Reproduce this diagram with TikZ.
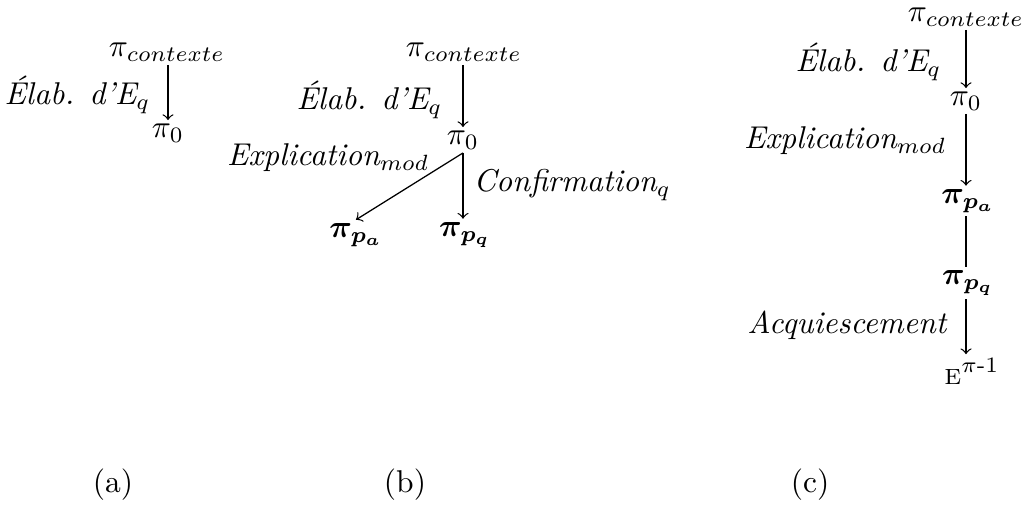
\documentclass[tikz,border=0pt]{standalone}
\usepackage{fontspec}
\usepackage{amsmath}
\usepackage{bm}
\usepackage{tikz}
\usetikzlibrary{positioning}
\tikzset{
  pinode/.style={inner sep=1pt, font=\normalsize},
  lbl/.style={inner sep=0pt, font=\normalsize\itshape},
  arr/.style={-to, thin},
  rel/.style={thin},
  caption/.style={inner sep=0pt, font=\normalsize}
}

\begin{document}
\begin{tikzpicture}[x=0.01115cm, y=-0.01115cm]
  \useasboundingbox (0,0) rectangle (1028,507);
  % (a)
  \node[pinode] (ctxA) at (167,52) {$\pi_{contexte}$};
  \node[pinode] (p0A) at (168,133) {$\pi_0$};
  \node[lbl, anchor=east] (elabA) at (151,95) {Élab. d'E$_q$};
  \draw[arr] (ctxA.south -| p0A) -- (p0A.north);
  % (b)
  \node[pinode] (ctxB) at (464,52) {$\pi_{contexte}$};
  \node[pinode] (p0B) at (463,140) {$\pi_0$};
  \node[pinode] (paB) at (356,235) {$\bm{\pi_{p_a}}$};
  \node[pinode] (pqB) at (465,235) {$\bm{\pi_{p_q}}$};
  \node[lbl, anchor=east] (elabB) at (443,100) {Élab. d'E$_q$};
  \node[lbl, anchor=east] (explB) at (430,158) {Explication$_{mod}$};
  \node[lbl, anchor=west] (confB) at (473,185) {Confirmation$_q$};
  \draw[arr] (ctxB.south -| p0B) -- (p0B.north);
  \draw[arr] (p0B.south) -- (paB.north);
  \draw[arr] (p0B.south) -- (p0B.south |- pqB.north);
  % (c)
  \node[pinode] (ctxC) at (966,17) {$\pi_{contexte}$};
  \node[pinode] (p0C) at (966,101) {$\pi_0$};
  \node[pinode] (paC) at (968,201) {$\bm{\pi_{p_a}}$};
  \node[pinode] (pqC) at (968,283) {$\bm{\pi_{p_q}}$};
  \node[pinode] (eC) at (972,371) {{\scriptsize E}$^{\pi\text{-1}}$};
  \node[lbl, anchor=east] (elabC) at (942,62) {Élab. d'E$_q$};
  \node[lbl, anchor=east] (explC) at (947,141) {Explication$_{mod}$};
  \node[lbl, anchor=east] (acqC) at (947,325) {Acquiescement};
  \draw[arr] (ctxC.south -| p0C) -- (p0C.north);
  \draw[arr] (p0C.south) -- (p0C.south |- paC.north);
  \draw[rel] (p0C.south |- paC.south) -- (p0C.south |- pqC.north);
  \draw[arr] (p0C.south |- pqC.south) -- (p0C.south |- eC.north);
  % captions
  \node[caption] (capA) at (113,485) {(a)};
  \node[caption] (capB) at (405,485) {(b)};
  \node[caption] (capC) at (810,485) {(c)};
\end{tikzpicture}
\end{document}
